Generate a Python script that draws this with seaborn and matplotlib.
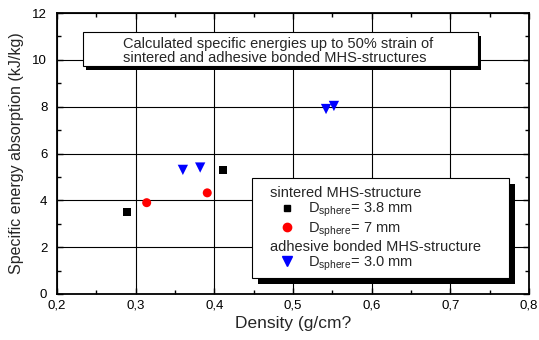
import numpy as np
import pandas as pd
import matplotlib
matplotlib.use("Agg")
import matplotlib.pyplot as plt
import matplotlib.patheffects as pe
from matplotlib.lines import Line2D
from matplotlib.patches import Rectangle
from matplotlib.ticker import FixedLocator, FixedFormatter, MultipleLocator
import seaborn as sns

# ---- data ----
sq_x = [0.289, 0.411]
sq_y = [3.5, 5.3]
red_x = [0.314, 0.391]
red_y = [3.9, 4.32]
blue_x = [0.360, 0.382, 0.542, 0.552]
blue_y = [5.3, 5.4, 7.9, 8.03]

series_names = ["sq38", "red7", "blue30"]
legend_labels = [r"D$_{\mathrm{sphere}}$= 3.8 mm",
                 r"D$_{\mathrm{sphere}}$= 7 mm",
                 r"D$_{\mathrm{sphere}}$= 3.0 mm"]
header_labels = ["sintered MHS-structure", "adhesive bonded MHS-structure"]
title_text = "Calculated specific energies up to 50% strain of\nsintered and adhesive bonded MHS-structures"

x_ticks = [0.2, 0.3, 0.4, 0.5, 0.6, 0.7, 0.8]
x_ticklabels = ["0,2", "0,3", "0,4", "0,5", "0,6", "0,7", "0,8"]
y_ticks = [0, 2, 4, 6, 8, 10, 12]
y_ticklabels = ["0", "2", "4", "6", "8", "10", "12"]

df = pd.DataFrame({
    "x": sq_x + red_x + blue_x,
    "y": sq_y + red_y + blue_y,
    "s": [series_names[0]] * len(sq_x) + [series_names[1]] * len(red_x) + [series_names[2]] * len(blue_x),
})

palette = {"sq38": "black", "red7": "red", "blue30": "blue"}
markers = {"sq38": "s", "red7": "o", "blue30": "v"}
sizes = {"sq38": 28, "red7": 42, "blue30": 55}

sns.set_theme(style="white")
plt.rcParams["font.family"] = ["Liberation Sans", "DejaVu Sans"]
plt.rcParams["mathtext.fontset"] = "custom"
plt.rcParams["mathtext.rm"] = "Liberation Sans"
plt.rcParams["mathtext.it"] = "Liberation Sans:italic"

fig = plt.figure(figsize=(5.39, 3.40), dpi=100)
ax = fig.add_axes([57 / 539, 46 / 340, 472 / 539, 281 / 340])

for name in series_names:
    sub = df[df["s"] == name]
    sns.scatterplot(data=sub, x="x", y="y", color=palette[name], marker=markers[name],
                    s=sizes[name], edgecolor="none", linewidth=0, ax=ax, legend=False, zorder=5)

ax.set_xlim(0.2, 0.8)
ax.set_ylim(0, 12)
ax.xaxis.set_major_locator(FixedLocator(x_ticks))
ax.xaxis.set_major_formatter(FixedFormatter(x_ticklabels))
ax.yaxis.set_major_locator(FixedLocator(y_ticks))
ax.yaxis.set_major_formatter(FixedFormatter(y_ticklabels))
ax.xaxis.set_minor_locator(MultipleLocator(0.05))
ax.yaxis.set_minor_locator(MultipleLocator(1))
ax.grid(True, which="major", color="black", linewidth=0.8)
ax.set_axisbelow(True)
for sp in ax.spines.values():
    sp.set_color("black")
    sp.set_linewidth(1.3)
ax.tick_params(which="both", direction="in", top=True, right=True, bottom=True, left=True,
               colors="black", labelsize=9.5)
ax.tick_params(which="major", length=4, width=1)
ax.tick_params(which="minor", length=3, width=1)
ax.tick_params(axis="x", pad=4)
ax.tick_params(axis="y", pad=7)

ax.set_xlabel("Density (g/cm?", fontsize=12.5, labelpad=3)
ax.set_ylabel("Specific energy absorption (kJ/kg)", fontsize=11.5, labelpad=6)

# title box
rect = Rectangle((0.055, 0.811), 0.837, 0.121, transform=ax.transAxes, facecolor="white",
                 edgecolor="black", linewidth=0.8, zorder=6)
rect.set_path_effects([pe.withSimplePatchShadow(offset=(2.5, -2.5), shadow_rgbFace="black", alpha=1)])
ax.add_patch(rect)
ax.text(0.140, 0.865, title_text, transform=ax.transAxes, ha="left", va="center",
        fontsize=10.5, linespacing=1.0, zorder=7)

# legend box
lrect = Rectangle((195 / 472, 16 / 281), 257 / 472, 100 / 281, transform=ax.transAxes,
                  facecolor="white", edgecolor="black", linewidth=0.8, zorder=7)
lrect.set_path_effects([pe.withSimplePatchShadow(offset=(4.5, -4), shadow_rgbFace="black", alpha=1)])
ax.add_patch(lrect)

# legend
blank = Line2D([], [], linestyle="none", marker=None)
handles = [blank,
           Line2D([], [], linestyle="none", marker="s", color="black", markersize=5),
           Line2D([], [], linestyle="none", marker="o", color="red", markersize=6),
           blank,
           Line2D([], [], linestyle="none", marker="v", color="blue", markersize=7)]
labels = [header_labels[0], legend_labels[0], legend_labels[1], header_labels[1], legend_labels[2]]
fs = 10.5
fs_px = fs * 100 / 72
leg = ax.legend(handles, labels, loc="upper left", bbox_to_anchor=(211 / 472, 108 / 281),
                borderaxespad=0, fontsize=fs, frameon=False,
                handlelength=38 / fs_px, handletextpad=2 / fs_px, borderpad=0, labelspacing=0.07)
leg.set_zorder(8)
header_idx = {0, 3}
rows = []
for col in leg._legend_handle_box.get_children():
    rows.extend(col.get_children())
for i, row in enumerate(rows):
    if i in header_idx:
        row.get_children()[0].set_width(0)

fig.savefig("out.png", dpi=100, facecolor="white")
